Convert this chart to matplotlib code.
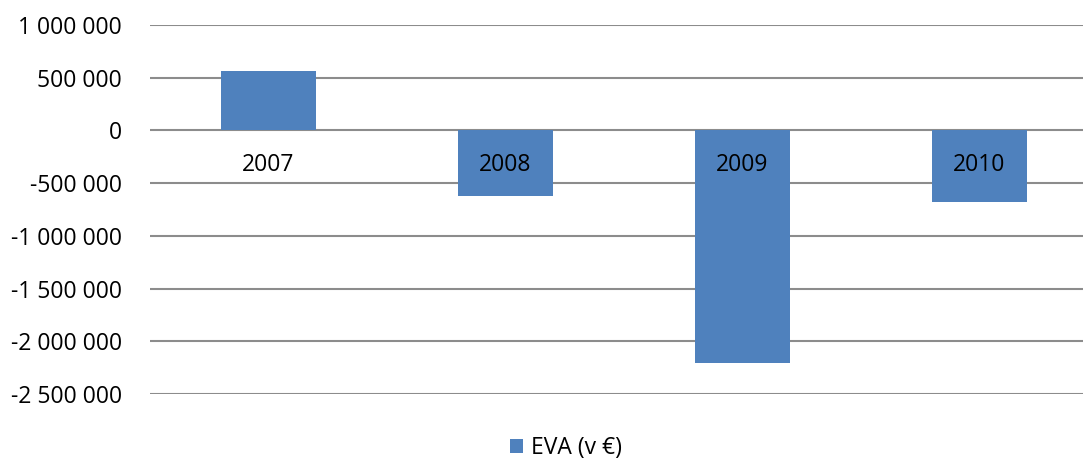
import numpy as np
import matplotlib.pyplot as plt
from matplotlib.ticker import FuncFormatter

# EVA podla rokov
years = ['2007', '2008', '2009', '2010']
eva = [560000, -618000, -2209000, -675000]
y_ticks = [1000000, 500000, 0, -500000, -1000000, -1500000, -2000000, -2500000]

plt.rcParams['font.family'] = ['Open Sans', 'DejaVu Sans']
fs = 16.5

fig = plt.figure(figsize=(10.83, 4.59), dpi=100)
# oblast grafu podla referencie (v pixeloch)
ax = fig.add_axes([150 / 1083, 1 - 394 / 459, (1083 - 150) / 1083, (394 - 25) / 459])

x = np.arange(len(years))
bars = ax.bar(x, eva, width=0.4, color='#4F81BD', label='EVA (v €)', zorder=2)

ax.set_xlim(-0.5, -0.5 + (1083 - 150) / 237)
ax.set_ylim(-2500000, 1000000)
ax.set_yticks(y_ticks)
ax.yaxis.set_major_formatter(FuncFormatter(lambda v, p: f'{int(v):,}'.replace(',', ' ')))
ax.tick_params(axis='y', length=0, pad=20, labelsize=fs)
ax.set_xticks([])
ax.grid(axis='y', color='#8c8c8c', linewidth=1.5, zorder=0)
for s in ax.spines.values():
    s.set_visible(False)

# popisky rokov pri nulovej osi
for xi, yr in zip(x, years):
    ax.text(xi, -330000, yr, ha='center', va='center', fontsize=fs)

fig.legend(handles=[bars], labels=['EVA (v €)'], loc='center', bbox_to_anchor=(566 / 1083, 1 - 448 / 459),
           frameon=False, fontsize=fs, handlelength=0.6, handleheight=0.6, handletextpad=0.35)

fig.savefig('out.png', dpi=100)
